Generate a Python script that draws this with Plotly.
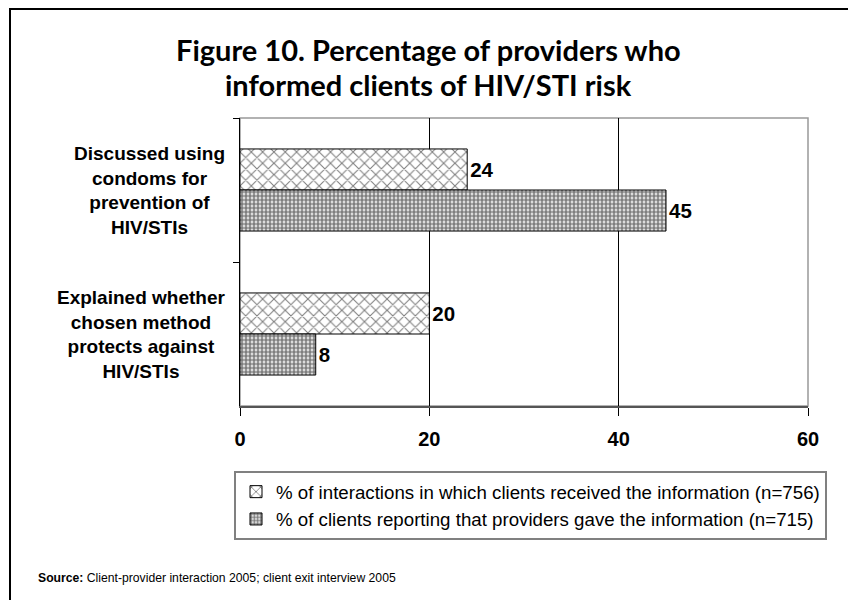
import plotly.graph_objects as go

categories = ["Discussed using<br>condoms for<br>prevention of<br>HIV/STIs",
              "Explained whether<br>chosen method<br>protects against<br>HIV/STIs"]
series_names = ["% of interactions in which clients received the information (n=756)",
                "% of clients reporting that providers gave the information (n=715)"]
interactions = [24, 20]
clients = [45, 8]
x_ticks = [0, 20, 40, 60]
title_lines = ["Figure 10. Percentage of providers who", "informed clients of HIV/STI risk"]

W, H = 856, 600
L, R, T, B = 232, 56, 110, 202
PW, PH = W - L - R, H - T - B

def px(x):
    return (x - L) / PW

def py(y):
    return (H - B - y) / PH

FONT = "Arial, Liberation Sans, sans-serif"

fig = go.Figure()
fig.add_trace(go.Bar(
    y=categories, x=interactions, name=series_names[0], orientation="h",
    marker=dict(color="white", line=dict(color="black", width=1),
                pattern=dict(shape="x", fgcolor="black", bgcolor="white", size=8, solidity=0.25)),
    text=interactions, textposition="outside", cliponaxis=False,
    textfont=dict(family=FONT, size=20.5, color="black", weight="bold"),
))
fig.add_trace(go.Bar(
    y=categories, x=clients, name=series_names[1], orientation="h",
    marker=dict(color="white", line=dict(color="black", width=1),
                pattern=dict(shape=".", fgcolor="black", bgcolor="white", size=4, solidity=0.7)),
    text=clients, textposition="outside", cliponaxis=False,
    textfont=dict(family=FONT, size=20.5, color="black", weight="bold"),
))

annotations = []
for c in categories:
    annotations.append(dict(x=px(219), xref="paper", y=c, yref="y", text=c, showarrow=False,
                            xanchor="right", yanchor="middle", align="center",
                            font=dict(family=FONT, size=19, color="black", weight="bold")))
for i, line in enumerate(title_lines):
    annotations.append(dict(x=px(420), xref="paper", y=py(41 + 35 * i), yref="paper", text=line,
                            showarrow=False, xanchor="center", yanchor="middle",
                            font=dict(family="Lato, sans-serif", size=29, color="black", weight="bold")))
annotations.append(dict(x=px(28), xref="paper", y=py(570), yref="paper", showarrow=False,
                        xanchor="left", yanchor="middle",
                        text="<b>Source:</b> Client-provider interaction 2005; client exit interview 2005",
                        font=dict(family=FONT, size=12.2, color="black")))

shapes = [
    dict(type="rect", xref="paper", yref="paper", x0=px(2), x1=px(880), y0=py(1), y1=py(620),
         line=dict(color="black", width=2), fillcolor="rgba(0,0,0,0)", layer="below"),
    dict(type="rect", xref="paper", yref="paper", x0=0, x1=1, y0=0, y1=1,
         line=dict(color="#999999", width=1.5), fillcolor="rgba(0,0,0,0)", layer="below"),
]

fig.update_layout(
    width=W, height=H, margin=dict(l=L, r=R, t=T, b=B),
    paper_bgcolor="white", plot_bgcolor="white",
    barmode="group", bargap=0.43, bargroupgap=0,
    xaxis=dict(range=[0, 60], tickvals=x_ticks, ticktext=[str(v) for v in x_ticks],
               showgrid=True, gridcolor="black", gridwidth=1, zeroline=False,
               showline=True, linecolor="#555555", linewidth=2,
               ticks="outside", ticklen=8, tickcolor="black", tickwidth=1,
               ticklabelstandoff=6,
               tickfont=dict(family=FONT, size=20, color="black", weight="bold")),
    yaxis=dict(type="category", autorange="reversed", showticklabels=False,
               showline=True, linecolor="black", linewidth=1, showgrid=False,
               ticks="outside", ticklen=6, tickcolor="black", tickson="boundaries"),
    legend=dict(x=px(226), xanchor="left", y=py(463), yanchor="top", orientation="v",
                bordercolor="#808080", borderwidth=2, bgcolor="white",
                font=dict(family=FONT, size=18.7, color="black"), itemwidth=30,
                traceorder="normal"),
    annotations=annotations, shapes=shapes,
)

fig.write_html("out.html")
